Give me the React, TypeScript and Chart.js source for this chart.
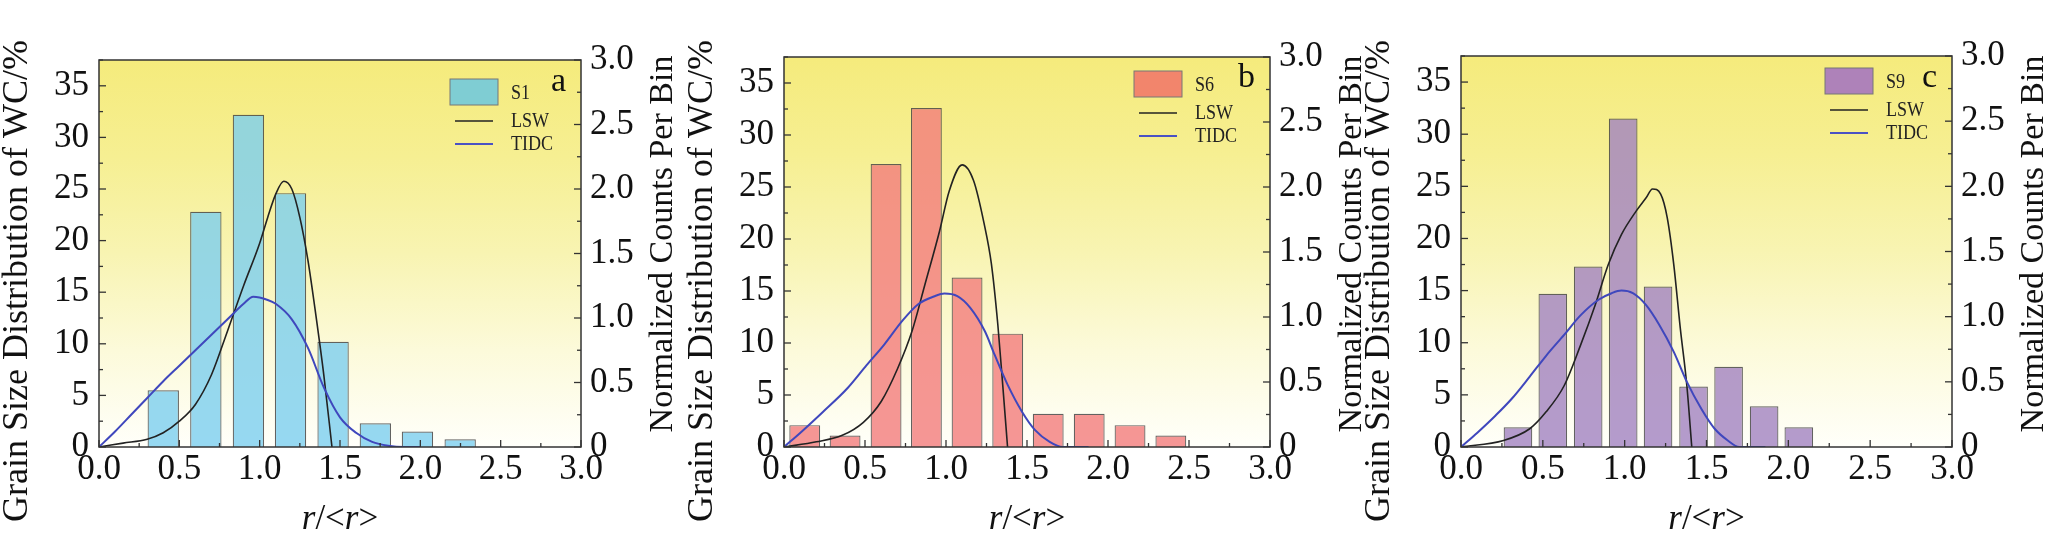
import React, { useEffect, useRef } from 'react';
import { Chart, registerables } from 'chart.js';

Chart.register(...registerables);

// ---- values ----
const X_TICK_VALUES = [0, 0.5, 1, 1.5, 2, 2.5, 3];
const X_TICK_LABELS = ['0.0', '0.5', '1.0', '1.5', '2.0', '2.5', '3.0'];
const LEFT_TICK_VALUES = [0, 5, 10, 15, 20, 25, 30, 35];
const LEFT_TICK_LABELS = ['0', '5', '10', '15', '20', '25', '30', '35'];
const RIGHT_TICK_VALUES = [0, 0.5, 1, 1.5, 2, 2.5, 3];
const RIGHT_TICK_LABELS = ['0', '0.5', '1.0', '1.5', '2.0', '2.5', '3.0'];

// S1 (panel a)
const S1_BINS = [0.4, 0.665, 0.93, 1.192, 1.457, 1.72, 1.982, 2.248];
const S1_PERCENT = [5.5, 22.8, 32.2, 24.6, 10.2, 2.3, 1.5, 0.75];
const S1_LSW_X = [0, 0.15, 0.3, 0.4, 0.5, 0.6, 0.7, 0.8, 0.9, 1.0, 1.05, 1.1, 1.15, 1.2, 1.25, 1.3, 1.35, 1.4, 1.45];
const S1_LSW_Y = [0, 0.03, 0.06, 0.11, 0.2, 0.33, 0.56, 0.9, 1.25, 1.58, 1.78, 1.96, 2.06, 2.0, 1.78, 1.45, 1.02, 0.55, 0];
const S1_TIDC_X = [0, 0.1, 0.2, 0.3, 0.4, 0.5, 0.6, 0.7, 0.8, 0.9, 0.96, 1.05, 1.1, 1.2, 1.3, 1.4, 1.5, 1.6, 1.7, 1.8, 1.9, 2.0];
const S1_TIDC_Y = [0, 0.12, 0.25, 0.38, 0.51, 0.63, 0.75, 0.87, 0.99, 1.11, 1.165, 1.14, 1.11, 0.99, 0.77, 0.46, 0.23, 0.11, 0.04, 0.01, 0, 0];

// S6 (panel b)
const S6_BINS = [0.128, 0.377, 0.63, 0.879, 1.13, 1.381, 1.631, 1.884, 2.136, 2.388];
const S6_PERCENT = [2.1, 1.1, 27.2, 32.6, 16.3, 10.9, 3.2, 3.2, 2.1, 1.1];
const S6_LSW_X = [0, 0.2, 0.36, 0.49, 0.6, 0.7, 0.79, 0.87, 0.96, 1.02, 1.1, 1.17, 1.235, 1.28, 1.32, 1.35, 1.38];
const S6_LSW_Y = [0, 0.04, 0.09, 0.19, 0.35, 0.6, 0.89, 1.25, 1.66, 1.97, 2.17, 2.05, 1.72, 1.41, 0.94, 0.48, 0];
const S6_TIDC_X = [0, 0.11, 0.24, 0.39, 0.51, 0.62, 0.73, 0.83, 0.93, 0.99, 1.07, 1.15, 1.24, 1.3, 1.38, 1.47, 1.55, 1.64, 1.72, 1.88];
const S6_TIDC_Y = [0, 0.12, 0.27, 0.45, 0.63, 0.79, 0.97, 1.1, 1.16, 1.18, 1.16, 1.07, 0.89, 0.71, 0.48, 0.27, 0.13, 0.04, 0, 0];

// S9 (panel c)
const S9_BINS = [0.348, 0.561, 0.777, 0.991, 1.204, 1.421, 1.635, 1.852, 2.064];
const S9_PERCENT = [1.9, 14.7, 17.3, 31.5, 15.4, 5.8, 7.7, 3.9, 1.9];
const S9_LSW_X = [0, 0.26, 0.42, 0.52, 0.63, 0.73, 0.82, 0.9, 0.98, 1.07, 1.13, 1.17, 1.22, 1.26, 1.3, 1.34, 1.38, 1.41];
const S9_LSW_Y = [0, 0.05, 0.14, 0.27, 0.47, 0.78, 1.09, 1.4, 1.63, 1.81, 1.91, 1.98, 1.94, 1.76, 1.4, 0.91, 0.47, 0];
const S9_TIDC_X = [0, 0.1, 0.21, 0.31, 0.42, 0.52, 0.63, 0.73, 0.84, 0.92, 0.98, 1.05, 1.13, 1.21, 1.3, 1.38, 1.47, 1.55, 1.63, 1.7, 1.86];
const S9_TIDC_Y = [0, 0.11, 0.24, 0.37, 0.54, 0.7, 0.86, 1.01, 1.13, 1.18, 1.2, 1.18, 1.09, 0.94, 0.73, 0.5, 0.29, 0.14, 0.05, 0, 0];

const FONT = '"Liberation Serif", "Times New Roman", Times, serif';
const TEXT = '#111';
const HEIGHT = 547;
const FRAME_BOTTOM = 447;

interface PanelSpec {
  left: number;
  width: number;
  frameLeft: number;
  frameRight: number;
  frameTop: number;
  sample: string;
  letter: string;
  bins: number[];
  percent: number[];
  lswX: number[];
  lswY: number[];
  tidcX: number[];
  tidcY: number[];
  barColor: string;
  legendColor: string;
  barFraction: number;
  legendDx: number;
  legendY: number;
  letterBaseline: number;
  rightTitleDx: number;
}

const PANELS: PanelSpec[] = [
  {
    left: 0, width: 685, frameLeft: 99, frameRight: 581, frameTop: 60,
    sample: 'S1', letter: 'a',
    bins: S1_BINS, percent: S1_PERCENT,
    lswX: S1_LSW_X, lswY: S1_LSW_Y, tidcX: S1_TIDC_X, tidcY: S1_TIDC_Y,
    barColor: 'rgba(124, 206, 239, 0.8)', legendColor: '#7fcdd3',
    barFraction: 0.745, legendDx: 131, legendY: 79, letterBaseline: 91, rightTitleDx: 82,
  },
  {
    left: 685, width: 677, frameLeft: 99, frameRight: 585, frameTop: 57,
    sample: 'S6', letter: 'b',
    bins: S6_BINS, percent: S6_PERCENT,
    lswX: S6_LSW_X, lswY: S6_LSW_Y, tidcX: S6_TIDC_X, tidcY: S6_TIDC_Y,
    barColor: 'rgba(242, 124, 124, 0.8)', legendColor: '#f2856c',
    barFraction: 0.765, legendDx: 136, legendY: 71, letterBaseline: 87, rightTitleDx: 82,
  },
  {
    left: 1362, width: 705, frameLeft: 99, frameRight: 590, frameTop: 56,
    sample: 'S9', letter: 'c',
    bins: S9_BINS, percent: S9_PERCENT,
    lswX: S9_LSW_X, lswY: S9_LSW_Y, tidcX: S9_TIDC_X, tidcY: S9_TIDC_Y,
    barColor: 'rgba(161, 130, 193, 0.8)', legendColor: '#ae82b9',
    barFraction: 0.825, legendDx: 127, legendY: 68, letterBaseline: 87, rightTitleDx: 82,
  },
];

const drawInwardTicks = (
  ctx: CanvasRenderingContext2D,
  scale: any,
  step: number,
  side: 'left' | 'right' | 'bottom',
  area: any,
) => {
  const half = step / 2;
  const n = Math.round((scale.max - scale.min) / half);
  for (let i = 0; i <= n; i++) {
    const v = scale.min + i * half;
    const len = i % 2 === 0 ? 7 : 4;
    const p = scale.getPixelForValue(v);
    ctx.beginPath();
    if (side === 'left') {
      ctx.moveTo(area.left, p);
      ctx.lineTo(area.left + len, p);
    } else if (side === 'right') {
      ctx.moveTo(area.right, p);
      ctx.lineTo(area.right - len, p);
    } else {
      ctx.moveTo(p, area.bottom);
      ctx.lineTo(p, area.bottom - len);
    }
    ctx.stroke();
  }
};

const makePanelPlugin = (spec: PanelSpec) => ({
  id: 'originPanel',
  beforeDatasetsDraw(chart: any) {
    const { ctx, chartArea: a } = chart;
    const g = ctx.createLinearGradient(0, a.top, 0, a.bottom);
    g.addColorStop(0, 'rgb(245, 235, 124)');
    g.addColorStop(0.25, 'rgb(246, 239, 146)');
    g.addColorStop(0.5, 'rgb(248, 244, 178)');
    g.addColorStop(0.75, 'rgb(252, 250, 218)');
    g.addColorStop(1, 'rgb(255, 255, 250)');
    ctx.save();
    ctx.fillStyle = g;
    ctx.fillRect(a.left, a.top, a.right - a.left, a.bottom - a.top);
    ctx.restore();
  },
  afterDraw(chart: any) {
    const { ctx, chartArea: a, scales } = chart;
    ctx.save();

    // frame + inward ticks
    ctx.strokeStyle = '#333';
    ctx.lineWidth = 1.5;
    ctx.strokeRect(a.left, a.top, a.right - a.left, a.bottom - a.top);
    ctx.lineWidth = 1.3;
    drawInwardTicks(ctx, scales.y, 5, 'left', a);
    drawInwardTicks(ctx, scales.y2, 0.5, 'right', a);
    drawInwardTicks(ctx, scales.x, 0.5, 'bottom', a);

    // axis titles
    ctx.fillStyle = TEXT;
    ctx.textAlign = 'center';
    ctx.textBaseline = 'middle';
    ctx.save();
    ctx.translate(a.left - 81, 281);
    ctx.rotate(-Math.PI / 2);
    ctx.font = `36px ${FONT}`;
    ctx.fillText('Grain Size Distribution of WC/%', 0, 0);
    ctx.restore();

    ctx.save();
    ctx.translate(a.right + spec.rightTitleDx, 244);
    ctx.rotate(-Math.PI / 2);
    ctx.font = `34px ${FONT}`;
    ctx.fillText('Normalized Counts Per Bin', 0, 0);
    ctx.restore();

    // x title: r/<r> with italic r
    const parts = [
      { t: 'r', it: true },
      { t: '/<', it: false },
      { t: 'r', it: true },
      { t: '>', it: false },
    ];
    const fontFor = (it: boolean) => `${it ? 'italic ' : ''}35px ${FONT}`;
    let total = 0;
    const widths = parts.map((p) => {
      ctx.font = fontFor(p.it);
      const w = ctx.measureText(p.t).width;
      total += w;
      return w;
    });
    let x = (a.left + a.right) / 2 - total / 2;
    ctx.textAlign = 'left';
    parts.forEach((p, i) => {
      ctx.font = fontFor(p.it);
      ctx.fillText(p.t, x, 520);
      x += widths[i];
    });

    // legend
    const bx = a.right - spec.legendDx;
    const by = spec.legendY;
    ctx.fillStyle = spec.legendColor;
    ctx.fillRect(bx, by, 48, 26);
    ctx.strokeStyle = '#777';
    ctx.lineWidth = 1;
    ctx.strokeRect(bx, by, 48, 26);

    const legendText = (t: string, ty: number) => {
      ctx.save();
      ctx.translate(bx + 61, ty);
      ctx.scale(0.86, 1);
      ctx.font = `21px ${FONT}`;
      ctx.fillStyle = '#222';
      ctx.textAlign = 'left';
      ctx.textBaseline = 'middle';
      ctx.fillText(t, 0, 0);
      ctx.restore();
    };
    legendText(spec.sample, by + 14);

    ctx.strokeStyle = '#222';
    ctx.lineWidth = 1.6;
    ctx.beginPath();
    ctx.moveTo(bx + 5, by + 42);
    ctx.lineTo(bx + 43, by + 42);
    ctx.stroke();
    legendText('LSW', by + 42);

    ctx.strokeStyle = '#4a52c4';
    ctx.lineWidth = 2.2;
    ctx.beginPath();
    ctx.moveTo(bx + 5, by + 65);
    ctx.lineTo(bx + 43, by + 65);
    ctx.stroke();
    legendText('TIDC', by + 65);

    // panel letter
    ctx.font = `34px ${FONT}`;
    ctx.fillStyle = TEXT;
    ctx.textAlign = 'right';
    ctx.textBaseline = 'alphabetic';
    ctx.fillText(spec.letter, a.right - 15, spec.letterBaseline);

    ctx.restore();
  },
});

const tickFont = { family: FONT, size: 35 };

const Panel: React.FC<{ spec: PanelSpec }> = ({ spec }) => {
  const canvasRef = useRef<HTMLCanvasElement>(null);
  const chartRef = useRef<Chart | null>(null);

  useEffect(() => {
    if (!canvasRef.current) return;
    if (chartRef.current) chartRef.current.destroy();
    const ctx = canvasRef.current.getContext('2d');
    if (!ctx) return;

    const rightWidth = spec.width - spec.frameRight;

    chartRef.current = new Chart(ctx, {
      type: 'bar',
      data: {
        datasets: [
          {
            type: 'line',
            label: 'TIDC',
            data: spec.tidcX.map((x, i) => ({ x, y: spec.tidcY[i] })),
            yAxisID: 'y2',
            borderColor: '#3f47bd',
            borderWidth: 2,
            pointRadius: 0,
            cubicInterpolationMode: 'monotone',
            fill: false,
            order: 0,
          },
          {
            type: 'line',
            label: 'LSW',
            data: spec.lswX.map((x, i) => ({ x, y: spec.lswY[i] })),
            yAxisID: 'y2',
            borderColor: '#222',
            borderWidth: 1.6,
            pointRadius: 0,
            cubicInterpolationMode: 'monotone',
            fill: false,
            order: 0,
          },
          {
            type: 'bar',
            label: spec.sample,
            data: spec.bins.map((x, i) => ({ x, y: spec.percent[i] })),
            yAxisID: 'y',
            backgroundColor: spec.barColor,
            borderColor: 'rgba(70, 70, 70, 0.85)',
            borderWidth: 1.2,
            barPercentage: spec.barFraction,
            categoryPercentage: 1,
            order: 1,
          },
        ] as any,
      },
      options: {
        responsive: false,
        maintainAspectRatio: false,
        animation: false,
        layout: { padding: { top: spec.frameTop, left: 0, right: 0, bottom: 0 } },
        plugins: {
          legend: { display: false },
          tooltip: { enabled: false },
        },
        scales: {
          x: {
            type: 'linear',
            min: 0,
            max: 3,
            offset: false,
            grid: { display: false, drawTicks: false },
            border: { display: false },
            afterBuildTicks: (s: any) => {
              s.ticks = X_TICK_VALUES.map((value) => ({ value }));
            },
            ticks: {
              font: tickFont,
              color: TEXT,
              padding: 2,
              maxRotation: 0,
              autoSkip: false,
              callback: (_v: any, i: number) => X_TICK_LABELS[i],
            },
            afterFit: (s: any) => {
              s.height = HEIGHT - FRAME_BOTTOM;
            },
          },
          y: {
            type: 'linear',
            position: 'left',
            min: 0,
            max: 37.5,
            grid: { display: false, drawTicks: false },
            border: { display: false },
            afterBuildTicks: (s: any) => {
              s.ticks = LEFT_TICK_VALUES.map((value) => ({ value }));
            },
            ticks: {
              font: tickFont,
              color: TEXT,
              padding: 10,
              autoSkip: false,
              callback: (_v: any, i: number) => LEFT_TICK_LABELS[i],
            },
            afterFit: (s: any) => {
              s.width = spec.frameLeft;
            },
          },
          y2: {
            type: 'linear',
            position: 'right',
            min: 0,
            max: 3,
            grid: { display: false, drawTicks: false },
            border: { display: false },
            afterBuildTicks: (s: any) => {
              s.ticks = RIGHT_TICK_VALUES.map((value) => ({ value }));
            },
            ticks: {
              font: tickFont,
              color: TEXT,
              padding: 9,
              autoSkip: false,
              callback: (_v: any, i: number) => RIGHT_TICK_LABELS[i],
            },
            afterFit: (s: any) => {
              s.width = rightWidth;
            },
          },
        },
      } as any,
      plugins: [makePanelPlugin(spec)],
    });

    return () => {
      if (chartRef.current) {
        chartRef.current.destroy();
        chartRef.current = null;
      }
    };
  }, [spec]);

  return (
    <canvas
      ref={canvasRef}
      width={spec.width}
      height={HEIGHT}
      style={{ position: 'absolute', left: spec.left, top: 0, width: spec.width, height: HEIGHT }}
    />
  );
};

export default function App() {
  return (
    <div style={{ position: 'absolute', left: 0, top: 0, width: 2067, height: HEIGHT, background: '#fff' }}>
      {PANELS.map((p) => (
        <Panel key={p.sample} spec={p} />
      ))}
    </div>
  );
}
